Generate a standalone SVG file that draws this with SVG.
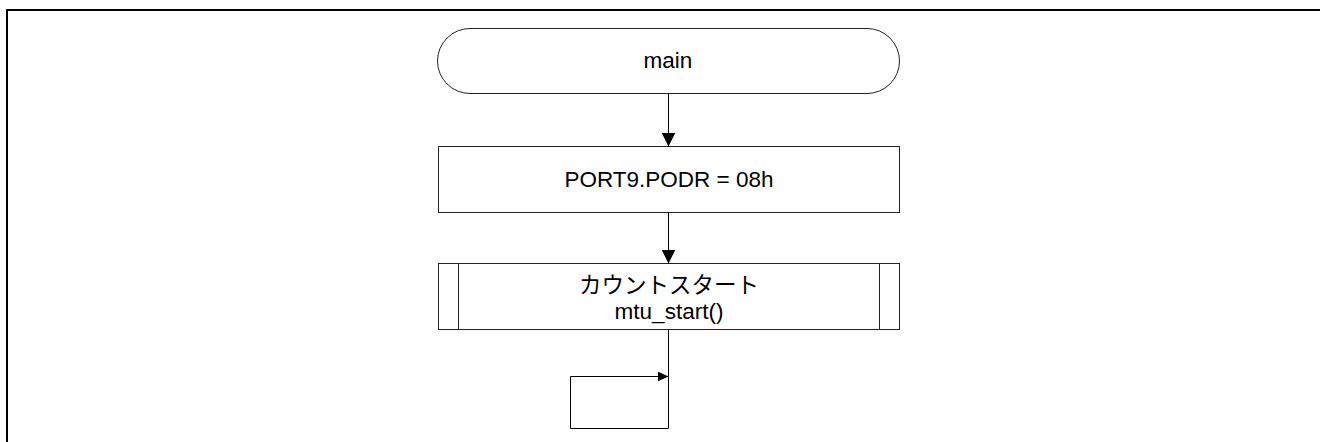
<svg xmlns="http://www.w3.org/2000/svg" width="1320" height="442" viewBox="0 0 1320 442">
<defs>
<style>
.shape{fill:#fff;stroke:#222;stroke-width:1}
.line{fill:none;stroke:#000;stroke-width:1}
.t{font-family:"Liberation Sans","Noto Sans CJK JP",sans-serif;font-size:22.5px;fill:#000;text-anchor:middle}
</style>
<marker id="arr" viewBox="0 0 14 14" refX="14" refY="7" markerWidth="14" markerHeight="14" markerUnits="userSpaceOnUse" orient="auto">
<path d="M0,0 L14,7 L0,14 Z" fill="#000"/>
</marker>
<marker id="arrS" viewBox="0 0 11 10" refX="11" refY="5" markerWidth="11" markerHeight="10" markerUnits="userSpaceOnUse" orient="auto">
<path d="M0,0 L11,5 L0,10 Z" fill="#000"/>
</marker>
</defs>
<rect width="1320" height="442" fill="#fff"/>
<path d="M7,442 V10 H1320" fill="none" stroke="#000" stroke-width="2"/>
<g id="n_main">
<rect class="shape" x="437.5" y="28.5" width="462" height="65" rx="32.5" ry="32.5"/>
<text class="t" x="668" y="68">main</text>
</g>
<g id="n_port">
<rect class="shape" x="438.5" y="146.5" width="461" height="66"/>
<text class="t" x="669" y="187">PORT9.PODR = 08h</text>
</g>
<g id="n_start">
<rect class="shape" x="438.5" y="263.5" width="461" height="66"/>
<line class="shape" x1="458.5" y1="263.5" x2="458.5" y2="329.5"/>
<line class="shape" x1="879.5" y1="263.5" x2="879.5" y2="329.5"/>
<text class="t" x="669" y="293">カウントスタート</text>
<text class="t" x="669" y="319">mtu_start()</text>
</g>
<g id="connectors">
<line class="line" x1="668.5" y1="93.5" x2="668.5" y2="146.5" marker-end="url(#arr)"/>
<line class="line" x1="668.5" y1="212.5" x2="668.5" y2="263.5" marker-end="url(#arr)"/>
<path class="line" d="M668.5,329.5 V428.5 H570.5 V376.5 H668.5" marker-end="url(#arrS)"/>
</g>
</svg>
